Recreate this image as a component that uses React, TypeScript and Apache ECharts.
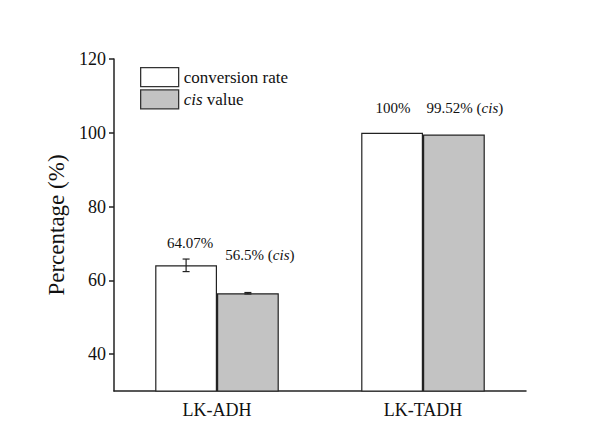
import React, { useEffect, useRef } from "react";
import * as echarts from "echarts";

const categories = ["LK-ADH", "LK-TADH"];
const seriesNames = ["conversion rate", "cis value"];
const conversionRate = [64.07, 100];
const cisValue = [56.5, 99.52];
const conversionErr = [1.7, 0];
const cisErr = [0.2, 0];
const conversionLabels = ["64.07%", "100%"];
const cisLabels = ["56.5% ", "99.52% "];
const yTicks = [40, 60, 80, 100, 120];

const FONT = "Liberation Serif";
const TXT = "#111";

export default function App() {
  const ref = useRef<HTMLDivElement>(null);
  useEffect(() => {
    if (!ref.current) return;
    const chart = echarts.init(ref.current, null, { renderer: "svg" });
    const barRatio = 0.3;
    const errData: number[][] = [];
    conversionRate.forEach((v, i) => errData.push([i, v, conversionErr[i], -1]));
    cisValue.forEach((v, i) => errData.push([i, v, cisErr[i], 1]));

    const richFor = (size: number) => ({
      n: { fontFamily: FONT, fontSize: size, color: TXT },
      it: { fontFamily: FONT, fontSize: size, color: TXT, fontStyle: "italic" },
    });

    chart.setOption({
      animation: false,
      backgroundColor: "#ffffff",
      textStyle: { fontFamily: FONT, color: TXT },
      grid: { left: 114, right: 71, top: 59, bottom: 57 },
      legend: {
        orient: "vertical",
        left: 135,
        top: 62,
        itemWidth: 38,
        itemHeight: 19,
        itemGap: 2,
        icon: "rect",
        itemStyle: { borderColor: "#333", borderWidth: 1.3 },
        textStyle: {
          fontFamily: FONT,
          fontSize: 17,
          color: TXT,
          rich: richFor(17),
        },
        formatter: (name: string) => (name === "cis value" ? "{it|cis}{n| value}" : "{n|" + name + "}"),
        data: seriesNames,
      },
      xAxis: {
        type: "category",
        data: categories,
        axisLine: { lineStyle: { color: "#222", width: 1.5 } },
        axisTick: { alignWithLabel: true, length: 5, inside: false, lineStyle: { color: "#222", width: 1.5 } },
        axisLabel: { fontFamily: FONT, fontSize: 18, color: TXT, margin: 10 },
      },
      yAxis: {
        type: "value",
        min: 30,
        max: 120,
        interval: 10,
        name: "Percentage (%)",
        nameLocation: "middle",
        nameGap: 43,
        nameTextStyle: { fontFamily: FONT, fontSize: 23, color: TXT },
        splitLine: { show: false },
        axisLine: { show: true, lineStyle: { color: "#222", width: 1.5 } },
        axisTick: { show: true, length: 5, customValues: yTicks, lineStyle: { color: "#222", width: 1.5 } },
        axisLabel: { fontFamily: FONT, fontSize: 18, color: TXT, margin: 8, customValues: yTicks },
      },
      series: [
        {
          name: seriesNames[0],
          type: "bar",
          barGap: "0%",
          barCategoryGap: "40%",
          itemStyle: { color: "#ffffff", borderColor: "#222", borderWidth: 1.2 },
          data: conversionRate.map((v, i) => ({
            value: v,
            label: {
              show: true,
              position: "top",
              offset: i === 0 ? [4, -10] : [1, -12],
              formatter: conversionLabels[i],
              fontFamily: FONT,
              fontSize: 15,
              color: TXT,
            },
          })),
        },
        {
          name: seriesNames[1],
          type: "bar",
          barGap: "0%",
          barCategoryGap: "40%",
          itemStyle: { color: "#c3c3c3", borderColor: "#222", borderWidth: 1.2 },
          data: cisValue.map((v, i) => ({
            value: v,
            label: {
              show: true,
              position: "top",
              offset: i === 0 ? [12, -26] : [11, -14],
              formatter: "{n|" + cisLabels[i] + "(}{it|cis}{n|)}",
              fontFamily: FONT,
              fontSize: 15,
              color: TXT,
              rich: richFor(15),
            },
          })),
        },
        {
          type: "custom",
          silent: true,
          z: 10,
          data: errData,
          renderItem: (params: any, api: any) => {
            const cat = api.value(0);
            const val = api.value(1);
            const err = api.value(2);
            const side = api.value(3);
            if (!err) return null;
            const band = api.size([1, 0])[0];
            const bw = band * barRatio;
            const c = api.coord([cat, val]);
            const x = c[0] + (side * bw) / 2;
            const yTop = api.coord([cat, val + err])[1];
            const yBot = api.coord([cat, val - err])[1];
            const cap = 3.5;
            const style = { stroke: "#222", lineWidth: 1.2 };
            return {
              type: "group",
              children: [
                { type: "line", shape: { x1: x, y1: yTop, x2: x, y2: yBot }, style },
                { type: "line", shape: { x1: x - cap, y1: yTop, x2: x + cap, y2: yTop }, style },
                { type: "line", shape: { x1: x - cap, y1: yBot, x2: x + cap, y2: yBot }, style },
              ],
            };
          },
        },
      ],
    });
    return () => chart.dispose();
  }, []);
  return (
    <div
      ref={ref}
      style={{ position: "fixed", left: 0, top: 0, width: 597, height: 448 }}
    />
  );
}
